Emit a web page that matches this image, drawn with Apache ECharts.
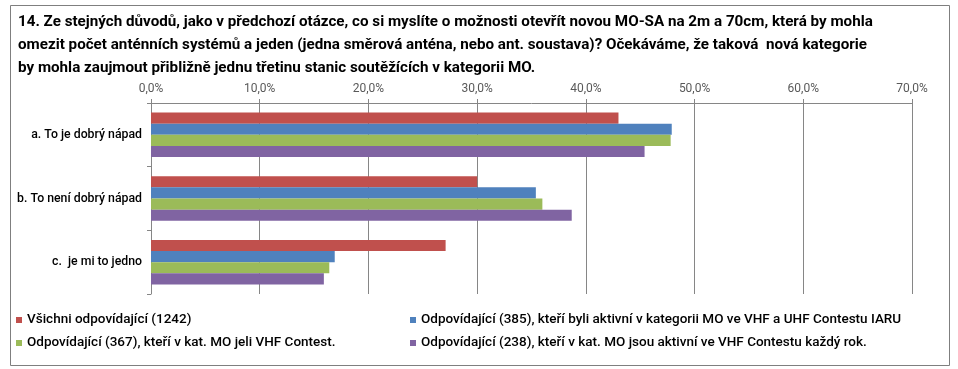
<!DOCTYPE html>
<html><head><meta charset="utf-8">
<script src="https://cdn.jsdelivr.net/npm/echarts@6/dist/echarts.min.js"></script>
<style>html,body{margin:0;padding:0;background:#fff}#c{width:958px;height:369px}</style>
</head><body><div id="c"></div>
<script>
const titleText = "14. Ze stejných důvodů, jako v předchozí otázce, co si myslíte o možnosti otevřít novou MO-SA na 2m a 70cm, která by mohla\nomezit počet anténních systémů a jeden (jedna směrová anténa, nebo ant. soustava)? Očekáváme, že taková  nová kategorie\nby mohla zaujmout přibližně jednu třetinu stanic soutěžících v kategorii MO.";
const categories = ["a. To je dobrý nápad", "b. To není dobrý nápad", "c.  je mi to jedno"];
const seriesNames = [
  "Všichni odpovídající (1242)",
  "Odpovídající (385), kteří byli aktivní v kategorii MO ve VHF a UHF Contestu IARU",
  "Odpovídající (367), kteří v kat. MO jeli VHF Contest.",
  "Odpovídající (238), kteří v kat. MO jsou aktivní ve VHF Contestu každý rok."
];
const allResp = [43.0, 30.0, 27.1];
const resp385 = [47.9, 35.4, 16.9];
const resp367 = [47.8, 36.0, 16.4];
const resp238 = [45.4, 38.7, 15.9];
const seriesValues = [allResp, resp385, resp367, resp238];
const colors = ["#C0504D", "#4F81BD", "#9BBB59", "#8064A2"];
const axisMax = 70, axisStep = 10;

const chart = echarts.init(document.getElementById('c'), null, {renderer: 'canvas'});
const fontFam = "Roboto, sans-serif";
const legendPos = [
  {left: 11, top: 308},
  {left: 405, top: 308},
  {left: 11, top: 331},
  {left: 405, top: 331}
];
chart.setOption({
  animation: false,
  color: colors,
  title: {
    text: titleText, left: 13, top: 6,
    textStyle: {fontFamily: fontFam, fontSize: 15.2, fontWeight: 'bold', color: '#000', lineHeight: 23}
  },
  legend: seriesNames.map((n, i) => ({
    data: [n], left: legendPos[i].left, top: legendPos[i].top,
    itemWidth: 6, itemHeight: 6, icon: 'rect', itemGap: 6,
    textStyle: {fontFamily: fontFam, fontSize: 13.5, color: '#000', fontWeight: 500}
  })),
  graphic: [{
    type: 'rect', left: 8, top: 3, shape: {width: 939, height: 360},
    style: {fill: 'none', stroke: '#7f7f7f', lineWidth: 1}, silent: true
  }],
  grid: {left: 151, right: 46, top: 103, bottom: 75, containLabel: false},
  xAxis: {
    type: 'value', position: 'top', min: 0, max: axisMax, interval: axisStep,
    axisLine: {show: true, lineStyle: {color: '#868686'}},
    axisTick: {show: true, length: 4, lineStyle: {color: '#868686'}},
    splitLine: {show: true, lineStyle: {color: '#868686', width: 1}},
    axisLabel: {formatter: v => v.toFixed(1).replace('.', ',') + '%', color: '#595959',
      fontFamily: fontFam, fontSize: 12, margin: 8}
  },
  yAxis: {
    type: 'category', data: categories, inverse: true,
    axisLine: {show: true, lineStyle: {color: '#868686'}},
    axisTick: {show: true, length: 4, lineStyle: {color: '#868686'}},
    axisLabel: {color: '#000', fontFamily: fontFam, fontSize: 12.3, margin: 9, fontWeight: 500}
  },
  series: seriesValues.map((vals, i) => ({
    name: seriesNames[i], type: 'bar', data: vals,
    barGap: '0%', barCategoryGap: '30%',
    itemStyle: {color: colors[i]}
  }))
});
</script></body></html>
